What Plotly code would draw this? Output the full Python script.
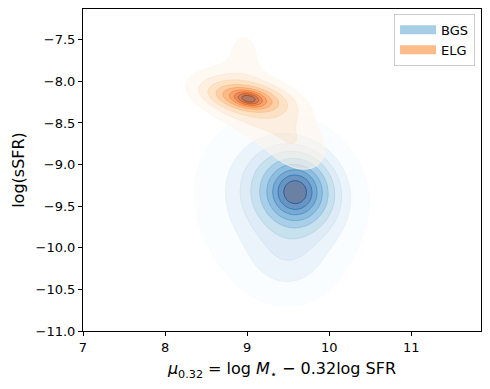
import numpy as np
import plotly.graph_objects as go

# ---- data: Gaussian-mixture description of the two KDE density fields ----
bgs_cx  = [9.59, 9.58, 9.34, 9.50]
bgs_cy  = [-9.33, -9.32, -9.48, -10.15]
bgs_sx  = [0.19, 0.34, 0.54, 0.32]
bgs_sy  = [0.19, 0.33, 0.58, 0.28]
bgs_rho = [0.0, -0.1, -0.1, 0.0]
bgs_w   = [0.30, 0.35, 0.30, 0.05]

elg_cx  = [9.02, 9.00, 9.00, 9.22, 8.96, 9.60]
elg_cy  = [-8.21, -8.20, -8.20, -8.42, -7.72, -8.80]
elg_sx  = [0.09, 0.20, 0.32, 0.38, 0.19, 0.22]
elg_sy  = [0.045, 0.08, 0.15, 0.28, 0.32, 0.20]
elg_rho = [-0.3, -0.35, -0.4, -0.6, 0.0, -0.3]
elg_w   = [0.20, 0.31, 0.28, 0.14, 0.04, 0.035]

series_names = ["BGS", "ELG"]
x_ticks = [7, 8, 9, 10, 11]
y_ticks = [-11.0, -10.5, -10.0, -9.5, -9.0, -8.5, -8.0, -7.5]

# matplotlib Blues / Oranges samples
blues = [(247, 251, 255), (222, 235, 247), (198, 219, 239), (158, 202, 225), (107, 174, 214),
         (66, 146, 198), (33, 113, 181), (8, 81, 156), (8, 48, 107)]
oranges = [(255, 245, 235), (254, 230, 206), (253, 208, 162), (253, 174, 107), (253, 141, 60),
           (241, 105, 19), (217, 72, 1), (166, 54, 3), (127, 39, 4)]

XR = [7, 11.85]
YR = [-11, -7.13]

gx = np.linspace(6.5, 12.3, 320)
gy = np.linspace(-11.5, -6.7, 280)
GX, GY = np.meshgrid(gx, gy)


def mixture(cx, cy, sx, sy, rho, w):
    Z = np.zeros_like(GX)
    for a, b, s1, s2, r, ww in zip(cx, cy, sx, sy, rho, w):
        dx = (GX - a) / s1
        dy = (GY - b) / s2
        q = (dx * dx - 2 * r * dx * dy + dy * dy) / (1 - r * r)
        Z += ww * np.exp(-0.5 * q) / (2 * np.pi * s1 * s2 * np.sqrt(1 - r * r))
    return Z


def mass_below(Z):
    flat = Z.ravel()
    order = np.argsort(flat)
    cum = np.cumsum(flat[order])
    cum /= cum[-1]
    out = np.empty_like(flat)
    out[order] = cum
    return out.reshape(Z.shape)


def interp(cmap, t):
    t = min(max(t, 0), 1) * (len(cmap) - 1)
    i = int(np.floor(t))
    j = min(i + 1, len(cmap) - 1)
    f = t - i
    return np.array([cmap[i][k] * (1 - f) + cmap[j][k] * f for k in range(3)])


thresh = 0.05
nlev = 10
levels = np.linspace(thresh, 1, nlev)
size = levels[1] - levels[0]
nc = nlev - 1  # contour levels actually drawn
alpha_fill = 0.6


def fill_scale(cmap):
    # plotly stacks nested fills; pick per-layer colours/alphas so that the
    # stacked result over white equals each band drawn once with alpha_fill.
    targets = [alpha_fill * interp(cmap, k / (nc - 1)) + (1 - alpha_fill) * 255 for k in range(nc)]
    sc = [[0.0, "rgba(255,255,255,0)"]]
    c0 = interp(cmap, 0.0)
    sc.append([1 / nc, f"rgba({c0[0]:.0f},{c0[1]:.0f},{c0[2]:.0f},{alpha_fill})"])
    for k in range(1, nc):
        prev, cur = targets[k - 1], targets[k]
        a = float(np.max(1 - cur / prev))
        a = min(max(a * 1.05, 0.05), 1.0)
        d = (cur - (1 - a) * prev) / a
        d = np.clip(d, 0, 255)
        sc.append([(k + 1) / nc, f"rgba({d[0]:.0f},{d[1]:.0f},{d[2]:.0f},{a:.3f})"])
    return sc


def line_scale(cmap):
    sc = []
    for k in range(nc):
        r, g, b = interp(cmap, k / (nlev - 1))
        sc.append([k / (nc - 1), f"rgba({r:.0f},{g:.0f},{b:.0f},0.9)"])
    return sc


fig = go.Figure()

for name, params, cmap in [
    ("BGS", (bgs_cx, bgs_cy, bgs_sx, bgs_sy, bgs_rho, bgs_w), blues),
    ("ELG", (elg_cx, elg_cy, elg_sx, elg_sy, elg_rho, elg_w), oranges),
]:
    Q = mass_below(mixture(*params))
    contours = dict(start=levels[0], end=levels[nc - 1], size=size)
    fig.add_trace(go.Contour(
        x=gx, y=gy, z=Q, autocontour=False,
        contours=dict(coloring="fill", showlines=False, **contours),
        colorscale=fill_scale(cmap), showscale=False, hoverinfo="skip",
        line=dict(width=0), showlegend=False))
    fig.add_trace(go.Contour(
        x=gx, y=gy, z=Q, autocontour=False,
        contours=dict(coloring="lines", **contours),
        colorscale=line_scale(cmap), showscale=False, hoverinfo="skip",
        line=dict(width=0.8), showlegend=False))

legend_cols = []
for cmap in (blues, oranges):
    r, g, b = interp(cmap, 0.5)
    legend_cols.append(f"rgba({r:.0f},{g:.0f},{b:.0f},{alpha_fill})")

for name, col in zip(series_names, legend_cols):
    fig.add_trace(go.Scatter(x=[None], y=[None], mode="lines", name=name,
                             line=dict(color=col, width=9)))

axis_common = dict(showline=True, linecolor="black", linewidth=1, mirror=True,
                   ticks="outside", ticklen=4, tickwidth=1, tickcolor="black",
                   showgrid=False, zeroline=False, automargin=False,
                   tickfont=dict(family="DejaVu Sans", size=13, color="black"))

fig.update_xaxes(range=XR, tickvals=x_ticks, ticktext=[str(v) for v in x_ticks],
                 title=dict(text="<i>μ</i><sub>0.32</sub> = log <i>M</i><sub>⋆</sub> − 0.32log SFR",
                            font=dict(family="DejaVu Sans", size=16, color="black"), standoff=9),
                 **axis_common)
fig.update_yaxes(range=YR, tickvals=y_ticks, tickformat=".1f",
                 title=dict(text="log(sSFR)", font=dict(family="DejaVu Sans", size=16, color="black"),
                            standoff=6),
                 **axis_common)

# the page body has an 8px default margin, so the figure is shifted by 8px
fig.update_layout(
    width=482, height=381,
    margin=dict(l=75, r=9, t=1, b=58),
    paper_bgcolor="white", plot_bgcolor="white",
    font=dict(family="DejaVu Sans", size=13, color="black"),
    legend=dict(x=0.985, y=0.985, xanchor="right", yanchor="top",
                bgcolor="rgba(255,255,255,0.8)", bordercolor="#cccccc", borderwidth=1,
                font=dict(family="DejaVu Sans", size=13, color="black"),
                itemwidth=36, tracegroupgap=0),
)

fig.write_html("out.html")
